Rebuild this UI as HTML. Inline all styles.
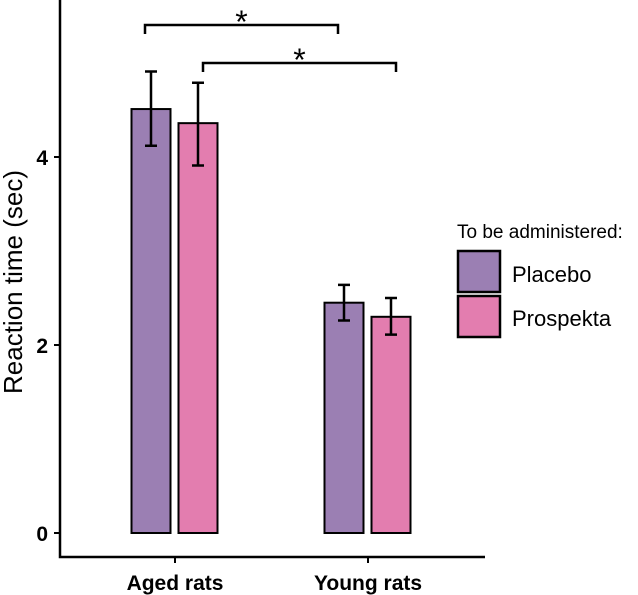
<!DOCTYPE html>
<html><head><meta charset="utf-8"><style>
body{margin:0;background:#fff}
svg{display:block;font-family:"Liberation Sans",Arial,sans-serif}
</style></head><body>
<svg width="638" height="595">
<g id="plot"></g>
<text x="0" y="0" transform="translate(22,282) rotate(-90)" text-anchor="middle" font-size="26" fill="#000">Reaction time (sec)</text>
<text x="457" y="238" font-size="19" fill="#000">To be administered:</text>
<rect x="458" y="251" width="42" height="41" fill="#9b7fb3" stroke="#000" stroke-width="2.5"/>
<text x="512" y="282" font-size="22">Placebo</text>
<rect x="458" y="296" width="42" height="41" fill="#e37daf" stroke="#000" stroke-width="2.5"/>
<text x="512" y="326" font-size="22">Prospekta</text>
</svg>
<script>
const categories=["Aged rats","Young rats"];
const placebo=[4.51,2.45];
const prospekta=[4.36,2.30];
const placeboLo=[4.12,2.26];
const placeboHi=[4.91,2.64];
const prospektaLo=[3.91,2.11];
const prospektaHi=[4.79,2.50];
const yTicks=[0,2,4];
const NS="http://www.w3.org/2000/svg";
const g=document.getElementById('plot');
const y=v=>533-v*94;
const cx=i=>175+i*193;
function mk(t,a){const e=document.createElementNS(NS,t);for(const k in a)e.setAttribute(k,a[k]);g.appendChild(e);return e;}
const series=[[placebo,placeboLo,placeboHi,"#9b7fb3",-24,"placebo"],[prospekta,prospektaLo,prospektaHi,"#e37daf",23,"prospekta"]];
categories.forEach((c,i)=>{
 series.forEach(s=>{
  const x=cx(i)+s[4];
  const r=mk('rect',{x:x-19.5,y:y(s[0][i]),width:39,height:y(0)-y(s[0][i]),fill:s[3],stroke:'#000','stroke-width':2});
  
  
  const e=mk('path',{d:`M${x} ${y(s[1][i])}V${y(s[2][i])}M${x-6} ${y(s[1][i])}H${x+6}M${x-6} ${y(s[2][i])}H${x+6}`,stroke:'#000','stroke-width':2.5,fill:'none'});
  
  
 });
 const t=mk('text',{x:cx(i),y:590,'text-anchor':'middle','font-size':21,'font-weight':'bold'});
 t.textContent=c;
 
 
 mk('line',{x1:cx(i),x2:cx(i),y1:557,y2:563,stroke:'#000','stroke-width':2});
});
yTicks.forEach(v=>{
 mk('line',{x1:54,x2:60,y1:y(v),y2:y(v),stroke:'#000','stroke-width':2});
 const t=mk('text',{x:48,y:y(v)+8,'text-anchor':'end','font-size':21,'font-weight':'bold'});
 t.textContent=v;
 
 
});
const ax=mk('path',{d:'M60 0V557H485',stroke:'#000','stroke-width':2.5,fill:'none'});


[[145,338,25],[203,396,63]].forEach((b,k)=>{
 const p=mk('path',{d:`M${b[0]} ${b[2]+9}V${b[2]}H${b[1]}V${b[2]+9}`,stroke:'#000','stroke-width':2.5,fill:'none'});
 
 
 const s=mk('text',{x:(b[0]+b[1])/2,y:b[2]+8,'text-anchor':'middle','font-size':32});
 s.textContent='*';
 
 
});
</script>
</body></html>
